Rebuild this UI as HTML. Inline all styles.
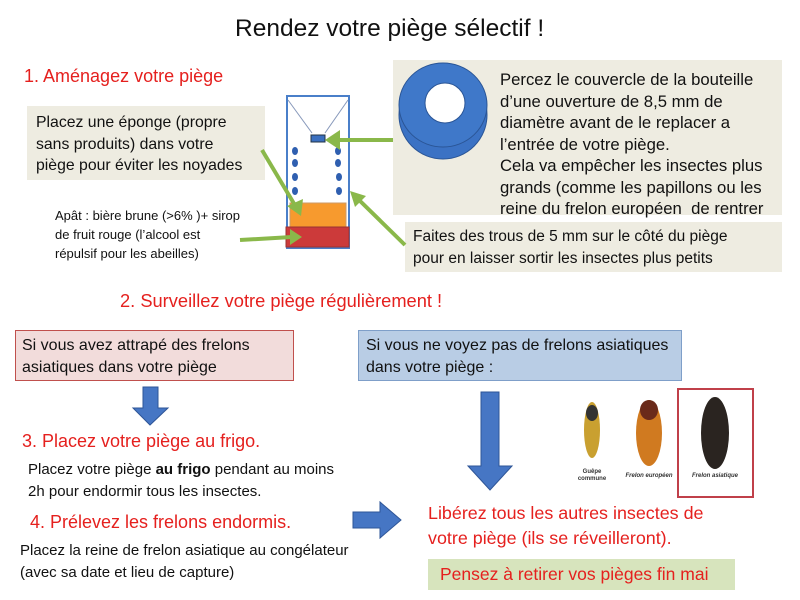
<!DOCTYPE html>
<html><head><meta charset="utf-8"><style>
body{margin:0;width:800px;height:600px;background:#fff;position:relative;overflow:hidden;font-family:"Liberation Sans",sans-serif;}
.a{position:absolute;white-space:nowrap;}
.r{color:#e5201e;font-size:18px;}
.t{font-size:15px;color:#111;line-height:21.5px;}
.box{position:absolute;}
</style></head><body>
<div class="a" style="left:235px;top:15px;font-size:24.5px;color:#111">Rendez votre piège sélectif !</div>
<div class="a r" style="left:24px;top:66px">1. Aménagez votre piège</div>
<div class="box" style="left:27px;top:106px;width:238px;height:74px;background:#eeece1"></div>
<div class="a t" style="left:36px;top:112px;font-size:15.8px">Placez une éponge (propre<br>sans produits) dans votre<br>piège pour éviter les noyades</div>
<div class="box" style="left:393px;top:60px;width:389px;height:155px;background:#eeece1"></div>
<div class="a t" style="left:500px;top:69px;font-size:16.7px">Percez le couvercle de la bouteille<br>d’une ouverture de 8,5 mm de<br>diamètre avant de le replacer a<br>l’entrée de votre piège.<br>Cela va empêcher les insectes plus<br>grands (comme les papillons ou les<br>reine du frelon européen&nbsp; de rentrer</div>
<div class="box" style="left:405px;top:222px;width:377px;height:50px;background:#eeece1"></div>
<div class="a t" style="left:413px;top:226px;font-size:15.5px">Faites des trous de 5 mm sur le côté du piège<br>pour en laisser sortir les insectes plus petits</div>
<div class="a" style="left:55px;top:206px;font-size:13px;line-height:19px;color:#111">Apât : bière brune (&gt;6% )+ sirop<br>de fruit rouge (l’alcool est<br>répulsif pour les abeilles)</div>
<svg class="a" style="left:0;top:0" width="800" height="300">
<rect x="287" y="96" width="62" height="152" fill="#fff" stroke="#4a7fc9" stroke-width="2"/>
<line x1="288" y1="100" x2="312" y2="133" stroke="#8899bb"/><line x1="348" y1="100" x2="325" y2="133" stroke="#8899bb"/>
<rect x="311" y="135" width="14" height="7" fill="#3a6fc0" stroke="#234"/>
<g fill="#2f5fb0"><ellipse cx="295" cy="151" rx="3" ry="4"/><ellipse cx="295" cy="163" rx="3" ry="4"/><ellipse cx="295" cy="177" rx="3" ry="4"/><ellipse cx="295" cy="191" rx="3" ry="4"/>
<ellipse cx="338" cy="151" rx="3" ry="4"/><ellipse cx="338" cy="163" rx="3" ry="4"/><ellipse cx="339" cy="177" rx="3" ry="4"/><ellipse cx="339" cy="191" rx="3" ry="4"/></g>
<rect x="290" y="203" width="56" height="24" fill="#f79a2e" stroke="#c96"/>
<rect x="286" y="227" width="63" height="20" fill="#cc3a3a" stroke="#933"/>
<ellipse cx="443" cy="115" rx="44" ry="44" fill="#3b72c4" stroke="#2a5596"/>
<ellipse cx="443" cy="105" rx="44" ry="42" fill="#3f78c9" stroke="#2a5596"/>
<circle cx="445" cy="103" r="20" fill="#fff" stroke="#2a5596"/>
<g stroke="#8ab84a" stroke-width="4" fill="#8ab84a">
<line x1="393" y1="140" x2="335" y2="140"/><polygon points="325,140 340,130 340,150" stroke="none"/>
<line x1="262" y1="150" x2="296" y2="207"/><polygon points="301,216 287,206 303,199" stroke="none"/>
<line x1="240" y1="240" x2="292" y2="237"/><polygon points="302,237 290,229 290,245" stroke="none"/>
<line x1="405" y1="245" x2="357" y2="198"/><polygon points="350,191 366,196 355,207" stroke="none"/>
</g>
</svg>
<div class="a r" style="left:120px;top:290px;font-size:18.3px">2. Surveillez votre piège régulièrement !</div>
<div class="box" style="left:15px;top:330px;width:277px;height:49px;background:#f2dcdb;border:1px solid #c0504d"></div>
<div class="a t" style="left:22px;top:335px;font-size:16px">Si vous avez attrapé des frelons<br>asiatiques dans votre piège</div>
<div class="box" style="left:358px;top:330px;width:322px;height:49px;background:#b9cde5;border:1px solid #7f9fc9"></div>
<div class="a t" style="left:366px;top:335px;font-size:16px">Si vous ne voyez pas de frelons asiatiques<br>dans votre piège :</div>
<svg class="a" style="left:0;top:380px" width="800" height="170">
<polygon points="143,7 158,7 158,28 168,28 150,45 133,28 143,28" fill="#4676c4" stroke="#2e5597"/>
<polygon points="481,12 499,12 499,86 512,86 490,110 468,86 481,86" fill="#4676c4" stroke="#2e5597"/>
<polygon points="353,132 380,132 380,122 401,140 380,158 380,148 353,148" fill="#4676c4" stroke="#2e5597"/>
</svg>
<div class="a r" style="left:22px;top:431px">3. Placez votre piège au frigo.</div>
<div class="a t" style="left:28px;top:459px">Placez votre piège <b>au frigo</b> pendant au moins<br>2h pour endormir tous les insectes.</div>
<div class="a r" style="left:30px;top:512px">4. Prélevez les frelons endormis.</div>
<div class="a t" style="left:20px;top:540px">Placez la reine de frelon asiatique au congélateur<br>(avec sa date et lieu de capture)</div>
<div class="a r" style="left:428px;top:501px;line-height:25px;font-size:17.9px">Libérez tous les autres insectes de<br>votre piège (ils se réveilleront).</div>
<div class="box" style="left:428px;top:559px;width:307px;height:31px;background:#d7e4bd"></div>
<div class="a" style="left:440px;top:564px;font-size:17.5px;color:#e5201e">Pensez à retirer vos pièges fin mai</div>
<svg class="a" style="left:565px;top:385px" width="200" height="115">
<g fill="#c9a030"><ellipse cx="27" cy="45" rx="8" ry="28"/></g><ellipse cx="27" cy="28" rx="6" ry="8" fill="#333"/>
<ellipse cx="84" cy="48" rx="13" ry="33" fill="#d07a20"/><ellipse cx="84" cy="25" rx="9" ry="10" fill="#6a2a1a"/>
<rect x="113" y="4" width="75" height="108" fill="none" stroke="#c0404a" stroke-width="2"/>
<ellipse cx="150" cy="48" rx="14" ry="36" fill="#2a2420"/>
<g font-family="Liberation Sans" font-size="6" fill="#333" text-anchor="middle" font-weight="bold">
<text x="27" y="88">Guêpe</text><text x="27" y="95">commune</text><text x="84" y="92" font-style="italic">Frelon européen</text><text x="150" y="92" font-style="italic">Frelon asiatique</text></g>
</svg>
</body></html>
